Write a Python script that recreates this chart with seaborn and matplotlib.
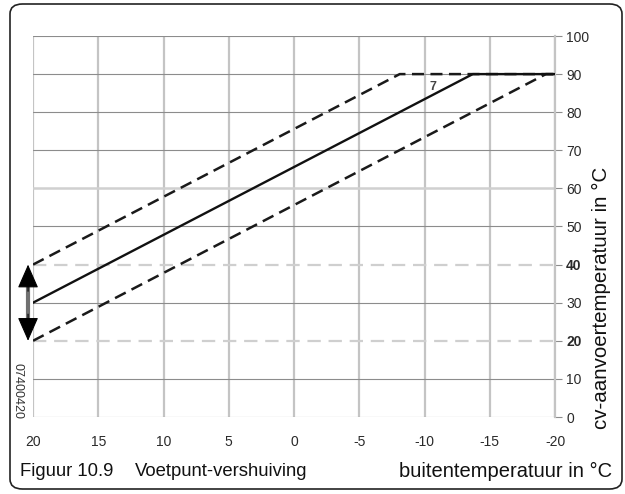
import matplotlib
matplotlib.use("Agg")
import matplotlib.pyplot as plt
from matplotlib.patches import FancyBboxPatch, FancyArrowPatch
import seaborn as sns
import pandas as pd

# Stooklijnen: buitentemperatuur (°C) tegen cv-aanvoertemperatuur (°C)
buiten_laag = [20, -19.3, -20]
aanvoer_laag = [20, 90, 90]
buiten_midden = [20, -13.7, -20]
aanvoer_midden = [30, 90, 90]
buiten_hoog = [20, -8.1, -20]
aanvoer_hoog = [40, 90, 90]

x_ticks = [20, 15, 10, 5, 0, -5, -10, -15, -20]
y_ticks = [0, 10, 20, 30, 40, 50, 60, 70, 80, 90, 100]
voetpunt_grenzen = [20, 40]
voetpunt_basis = 30
curve_label = "7"
curve_label_pos = (-10.65, 86.5)

sns.set_style("white")
plt.rcParams["font.family"] = ["Liberation Sans", "DejaVu Sans"]

W, H = 625, 494
fig = plt.figure(figsize=(W / 100, H / 100), dpi=100)
ax = fig.add_axes([33 / W, 1 - 417 / H, (555 - 33) / W, (417 - 36) / H])

# Rasterlijnen
for x in x_ticks:
    ax.axvline(x, color="#c4c4c4", lw=1.6, zorder=1)
for y in y_ticks:
    if y in voetpunt_grenzen:
        ax.axhline(y, color="#cfcfcf", lw=1.6, dashes=(6, 3.5), zorder=1)
    elif y == 60:
        ax.axhline(y, color="#d0d0d0", lw=1.8, zorder=1)
    else:
        ax.axhline(y, color="#8c8c8c", lw=0.8, zorder=1)

df_laag = pd.DataFrame({"buiten": buiten_laag, "aanvoer": aanvoer_laag})
df_mid = pd.DataFrame({"buiten": buiten_midden, "aanvoer": aanvoer_midden})
df_hoog = pd.DataFrame({"buiten": buiten_hoog, "aanvoer": aanvoer_hoog})

for df in (df_hoog, df_laag):
    sns.lineplot(data=df, x="buiten", y="aanvoer", sort=False, ax=ax,
                 color="#1a1a1a", lw=1.8, zorder=3)
    ax.lines[-1].set_dashes((4.8, 2.6))
sns.lineplot(data=df_mid, x="buiten", y="aanvoer", sort=False, ax=ax,
             color="#111111", lw=1.7, zorder=4)

ax.set_xlim(20, -20)
ax.set_ylim(0, 100)
ax.set_xticks(x_ticks)
ax.set_xticklabels([str(v) for v in x_ticks])
ax.set_yticks(y_ticks)
ax.set_yticklabels([str(v) for v in y_ticks])
ax.yaxis.tick_right()
ax.tick_params(axis="y", which="both", right=True, length=5, width=0.8,
               color="#8c8c8c", pad=3, labelsize=10, labelcolor="#2a2a2a")
ax.tick_params(axis="x", length=0, pad=13, labelsize=10, labelcolor="#2a2a2a")
for lbl in ax.get_yticklabels():
    if int(lbl.get_text()) in voetpunt_grenzen:
        lbl.set_fontweight("bold")
ax.set_xlabel("")
ax.set_ylabel("")
for side in ["top", "left", "bottom"]:
    ax.spines[side].set_visible(False)
ax.spines["right"].set_color("#c4c4c4")
ax.spines["right"].set_linewidth(1.6)

# Verschuivingspijl van het voetpunt
x_pijl = 20.38
ax.plot([x_pijl, x_pijl], [voetpunt_grenzen[0] + 3, voetpunt_grenzen[1] - 3],
        color="#707070", lw=3, clip_on=False, zorder=5,
        solid_capstyle="butt")
for doel in voetpunt_grenzen:
    start = doel + (7 if doel < voetpunt_basis else -7)
    ax.add_patch(FancyArrowPatch((x_pijl, start), (x_pijl, doel),
                                 arrowstyle="-|>,head_length=15,head_width=6.6",
                                 mutation_scale=1, color="black", lw=0.8,
                                 shrinkA=0, shrinkB=0,
                                 clip_on=False, zorder=6))

ax.text(*curve_label_pos, curve_label, fontsize=9, fontweight="bold",
        color="#444444", ha="center", va="center", zorder=5)

# Teksten
fig.text(17 / W, 1 - 391 / H, "07400420", rotation=-90, fontsize=9,
         ha="center", va="center", color="#333333")
fig.text(601 / W, 1 - 298 / H, "cv-aanvoertemperatuur in °C", rotation=90,
         fontsize=14.8, ha="center", va="center", color="#111111")
fig.text(612 / W, 1 - 471 / H, "buitentemperatuur in °C", fontsize=14.5,
         ha="right", va="center", color="#111111")
fig.text(20 / W, 1 - 471 / H, "Figuur 10.9", fontsize=13.3,
         ha="left", va="center", color="#111111")
fig.text(135 / W, 1 - 471 / H, "Voetpunt-vershuiving", fontsize=13.3,
         ha="left", va="center", color="#111111")

# Kader rond de figuur
frame = FancyBboxPatch((10 / W, 5 / H), 612 / W, 485 / H,
                       boxstyle="round,pad=0,rounding_size=0.02",
                       transform=fig.transFigure, fill=False,
                       edgecolor="#222222", lw=1.2)
fig.patches.append(frame)

fig.savefig("out.png", dpi=100)
